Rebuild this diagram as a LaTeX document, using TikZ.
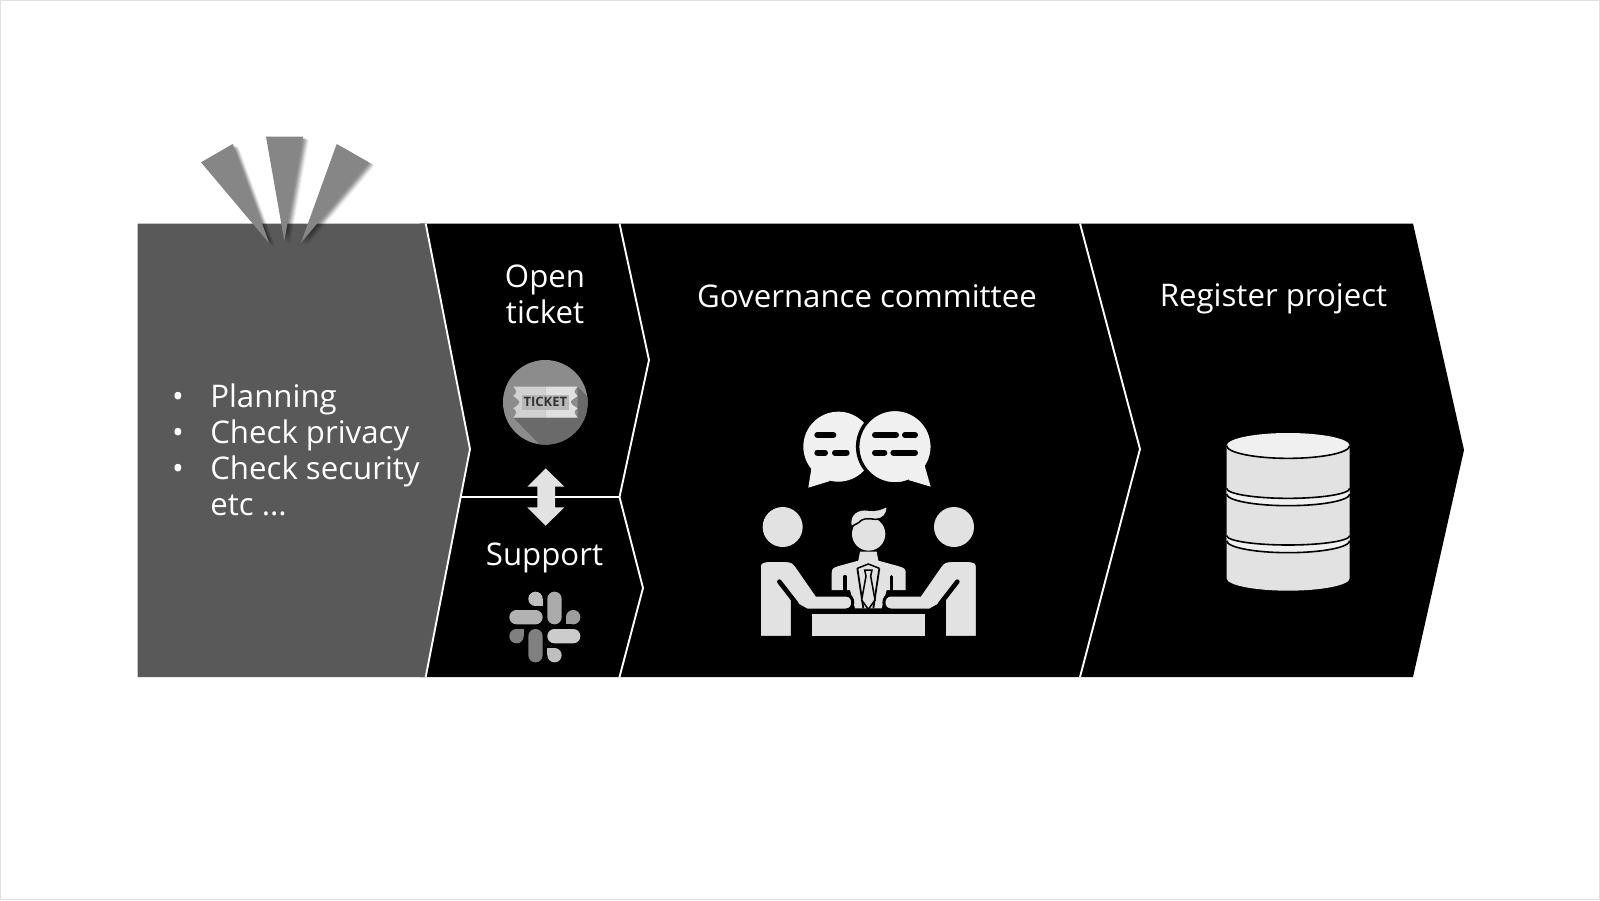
\documentclass[tikz,border=0pt]{standalone}
\usepackage{xcolor}
\usepackage{fontspec}
\setmainfont{Open Sans}
\usetikzlibrary{positioning}
\definecolor{stagegray}{HTML}{595959}
\definecolor{raygray}{HTML}{868686}
\definecolor{iconlight}{HTML}{E2E2E2}
\definecolor{iconpale}{HTML}{F0F0F0}
\begin{document}
\begin{tikzpicture}[x=1pt,y=-1pt,semithick]
  \tikzstyle{chev}=[draw=white,line width=1.9pt,line join=miter]
  \tikzstyle{ray}=[fill=raygray,
    preaction={fill=black,opacity=.05,transform canvas={xshift=6pt,yshift=-3.5pt}},
    preaction={fill=black,opacity=.06,transform canvas={xshift=5.2pt,yshift=-3pt}},
    preaction={fill=black,opacity=.07,transform canvas={xshift=4.4pt,yshift=-2.5pt}},
    preaction={fill=black,opacity=.08,transform canvas={xshift=3.6pt,yshift=-2pt}},
    preaction={fill=black,opacity=.08,transform canvas={xshift=2.8pt,yshift=-2pt}},
    preaction={fill=black,opacity=.09,transform canvas={xshift=2pt,yshift=-1.5pt}},
    preaction={fill=black,opacity=.10,transform canvas={xshift=1.2pt,yshift=-1pt}}]
  \tikzstyle{label}=[text=white,font=\fontsize{31.2}{36}\selectfont,align=center,inner sep=0pt]
  \tikzstyle{listitem}=[label,text height=24pt,text depth=8pt,anchor=west]
  \tikzstyle{listdot}=[label,text height=24pt,text depth=8pt]
  \tikzstyle{pale}=[fill=iconlight,draw=none]
  \tikzstyle{slit}=[draw=black,line width=4.6pt,line cap=round]
  \tikzstyle{slackpill}=[rounded corners=7.1pt,draw=none]
  \useasboundingbox (0,0) rectangle (1600,900);
  \fill[white] (0,0) rectangle (1600,900);
  \draw[draw=black!12,line width=1pt] (.5,.5) rectangle (1599.5,899.5);

  % stages
  \fill[black] (420,223.5) -- (1413,223.5) -- (1464,450) -- (1413,677) -- (420,677) -- cycle;
  \path[chev] (619.5,223.5) -- (649,360) -- (619.5,497) -- (643,588) -- (619.5,677);
  \path[chev] (461,497) -- (619.5,497);
  \path[chev] (1080,223.5) -- (1140,449) -- (1080,677);
  \fill[stagegray] (137.5,223.5) -- (425.7,223.5) -- (470,449) -- (425.7,677) -- (137.5,677) -- cycle;
  \path[chev] (425.7,223.5) -- (470,449) -- (425.7,677);

  % rays above the first stage
  \path[ray] (201,162.3) -- (232.7,144) -- (269.3,243.3) -- cycle;
  \path[ray] (266,136.7) -- (303,136.7) -- (284.3,240.7) -- cycle;
  \path[ray] (336.7,144) -- (368.7,162.3) -- (301,242.7) -- cycle;

  % texts
  \node[listitem] (planning) at (210,399) {Planning};
  \node[listitem] (privacy) [below=36pt of planning.west,anchor=west] {Check privacy};
  \node[listitem] (security) [below=36pt of privacy.west,anchor=west] {Check security};
  \node[listitem] (etc) [below=36pt of security.west,anchor=west] {etc ...};
  \node[listdot] (dotA) at (178,399) {•};
  \node[listdot] (dotB) at (178,435) {•};
  \node[listdot] (dotC) at (178,471) {•};
  \node[label] (ticket) at (545,294) {Open\\ticket};
  \node[label] (support) at (544.5,558) {Support};
  \node[label] (governance) at (867,296) {Governance committee};
  \node[label] (register) at (1273.5,299) {Register project};

  % ticket badge
  \begin{scope}[shift={(440,340)},scale=1/3]
    \begin{scope}
      \clip (316,187) circle [radius=127];
      \fill[black!45] (180,50) rectangle (460,330);
      \fill[stagegray!90] (220,233) -- (320,335) -- (470,335) -- (470,197) -- (413,140) -- (413,233) -- cycle;
    \end{scope}
    \fill[black!18] (220,140) -- (316,140) -- (316,233) -- (220,233) .. controls (232,215) .. (220,205) .. controls (245,187) .. (220,168) .. controls (232,155) .. cycle;
    \fill[black!12] (316,140) -- (413,140) .. controls (400,155) .. (413,168) .. controls (385,187) .. (413,205) .. controls (400,215) .. (413,233) -- (316,233) -- cycle;
    \fill[black!28] (245,165) rectangle (388,210);
    \node[font=\bfseries\fontsize{13}{13}\selectfont,text=black!80,inner sep=0pt] (ticketword) at (316,187) {TICKET};
  \end{scope}

  % double arrow between ticket and support
  \path[pale] (545.7,468.3) -- (564.3,486.7) -- (555,486.7) -- (555,507.3) -- (564.3,507.3) -- (545.7,525.7) -- (527.3,507.3) -- (537.3,507.3) -- (537.3,486.7) -- (527.3,486.7) -- cycle;

  % slack mark
  \begin{scope}[shift={(440,340)},scale=1/3]
    \path[slackpill,fill=black!25] (265,755) rectangle (308,798);
    \fill[black!25] (287,798) rectangle (308,776);
    \path[slackpill,fill=black!33] (322,755) rectangle (365,853);
    \path[slackpill,fill=black!30] (208,810) rectangle (308,853);
    \path[slackpill,fill=black!38] (378,810) rectangle (421,853);
    \fill[black!38] (378,832) rectangle (400,853);
    \path[slackpill,fill=black!50] (208,867) rectangle (251,910);
    \fill[black!50] (230,867) rectangle (251,889);
    \path[slackpill,fill=black!50] (265,867) rectangle (308,967);
    \path[slackpill,fill=black!20] (322,867) rectangle (421,910);
    \path[slackpill,fill=black!25] (322,924) rectangle (365,967);
    \fill[black!25] (322,924) rectangle (344,946);
  \end{scope}

  % committee icon
  \begin{scope}[shift={(740,400)},scale=1/3]
    \fill[iconpale] (205,263) -- (215,200) -- (270,243) -- cycle;
    \fill[iconpale] (295,140) circle [radius=105];
    \path[fill=iconpale,draw=black,line width=3.5pt] (465,140) circle [radius=112];
    \fill[iconpale] (572,260) -- (552,190) -- (505,240) -- cycle;
    \foreach \xa/\xb/\yy in {232/280/105,232/255/158,285/320/158,405/468/105,495/525/105,405/433/158,460/525/158}
      \draw[black,line width=6pt,line cap=round] (\xa,\yy) -- (\xb,\yy);
    % man at the middle
    \path[pale] (275,570) -- (275,525) .. controls (275,505) .. (300,497) -- (355,482) -- (360,455) -- (410,455) -- (415,482) -- (470,497) .. controls (497,505) .. (497,525) -- (497,570) -- (440,570) -- (425,625) -- (345,625) -- (330,570) -- cycle;
    \draw[slit,line width=3.5pt] (315,530) -- (315,575);
    \draw[slit,line width=3.5pt] (455,530) -- (455,575);
    \draw[black,line width=1.5pt] (352,505) -- (385,492) -- (418,505);
    \draw[black,line width=1.8pt] (352,505) -- (370,625);
    \draw[black,line width=1.8pt] (418,505) -- (400,625);
    \path[fill=iconlight,draw=black,line width=1.5pt] (374,510) -- (396,510) -- (392,528) -- (405,600) -- (385,628) -- (365,600) -- (378,528) -- cycle;
    \fill[iconlight] (386,402) circle [radius=50];
    \path[fill=iconlight,draw=black,line width=1.5pt] (333,380) .. controls (325,340) and (355,325) .. (385,330) .. controls (405,333) and (425,328) .. (442,318) .. controls (442,345) and (430,358) .. (405,358) .. controls (380,354) and (365,356) .. (356,368) -- cycle;
    % people left and right
    \foreach \side in {1,-1} {
      \begin{scope}[shift={(385,0)},xscale=\side]
        \fill[iconlight] (-257,381) circle [radius=60];
        \path[fill=iconlight,draw=black,line width=3pt] (-327,712) -- (-327,510) .. controls (-327,486) .. (-300,481) -- (-255,481) .. controls (-228,483) .. (-216,497) -- (-155,585) -- (-67,585) .. controls (-40,585) and (-40,630) .. (-67,630) -- (-185,630) -- (-228,606) -- (-228,712) -- cycle;
        \draw[slit] (-267,545) -- (-215,612);
      \end{scope}
    }
    \path[pale] (217,643) rectangle (555,708);
    \fill[black] (50,708.5) rectangle (720,725);
  \end{scope}

  % database icon
  \begin{scope}[shift={(1200,420)},scale=1/3]
    \path[pale] (80,77) -- (449,77) -- (449,475) arc [start angle=0,end angle=180,x radius=184.5,y radius=37] -- cycle;
    \path[fill=iconpale] (264.5,77) ellipse [x radius=184.5,y radius=38];
    \draw[black,line width=1.6pt] (80,77) arc [start angle=180,end angle=0,x radius=184.5,y radius=38];
    \fill[iconpale] (80,205) arc [start angle=180,end angle=0,x radius=184.5,y radius=30] -- (449,222) arc [start angle=0,end angle=180,x radius=184.5,y radius=35] -- cycle;
    \draw[black,line width=1.6pt] (80,205) arc [start angle=180,end angle=0,x radius=184.5,y radius=30];
    \draw[black,line width=1.6pt] (80,222) arc [start angle=180,end angle=0,x radius=184.5,y radius=35];
    \fill[iconpale] (80,347) arc [start angle=180,end angle=0,x radius=184.5,y radius=28] -- (449,362) arc [start angle=0,end angle=180,x radius=184.5,y radius=36] -- cycle;
    \draw[black,line width=1.6pt] (80,347) arc [start angle=180,end angle=0,x radius=184.5,y radius=28];
    \draw[black,line width=1.6pt] (80,362) arc [start angle=180,end angle=0,x radius=184.5,y radius=36];
  \end{scope}
\end{tikzpicture}
\end{document}
